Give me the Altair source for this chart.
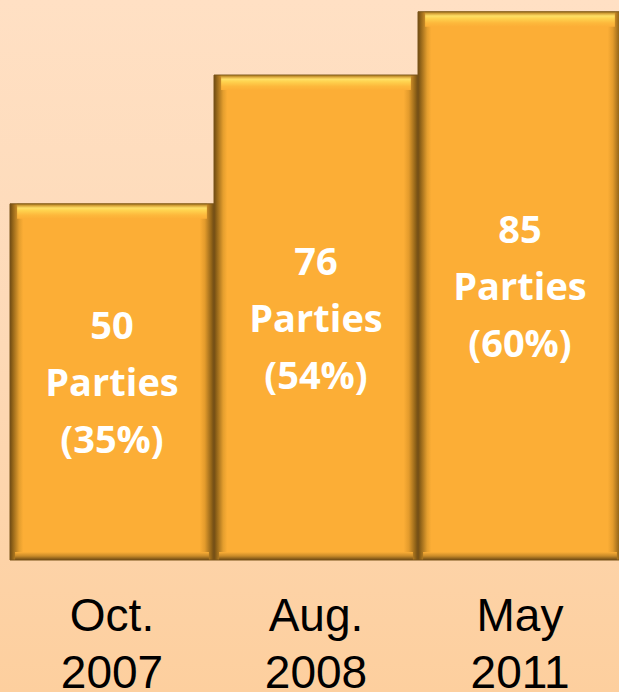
import altair as alt
import pandas as pd

# Data
periods = ["Oct. 2007", "Aug. 2008", "May 2011"]
party_counts = [50, 76, 85]
party_pcts = [35, 54, 60]
# drawn bar heights (the picture is not to scale), as % of the plot height
bar_heights = [63.6, 86.6, 97.9]

df = pd.DataFrame({
    "period": periods,
    "count": party_counts,
    "pct": party_pcts,
    "h": bar_heights,
})

base = alt.Chart(df).transform_calculate(
    mid="datum.h / 2",
    zero="0",
    label="datum.count + '\\nParties\\n(' + datum.pct + '%)'",
)

xenc = alt.X(
    "period:N",
    sort=periods,
    scale=alt.Scale(paddingInner=0, paddingOuter=0, range=[0, 612]),
    axis=alt.Axis(
        title=None, domain=False, ticks=False, labelAngle=0,
        labelExpr="split(datum.label, ' ')",
        labelFont="Liberation Sans", labelFontSize=46, labelLineHeight=57,
        labelColor="#000000", labelPadding=34, zindex=1,
    ),
)
yscale = alt.Scale(domain=[0, 100], nice=False, zero=True)

bg = base.mark_rect(
    color=alt.LinearGradient(
        gradient="linear", x1=0, x2=0, y1=0, y2=1,
        stops=[alt.GradientStop(color="#FFE0C4", offset=0),
               alt.GradientStop(color="#FDD9B6", offset=0.5),
               alt.GradientStop(color="#FDCF9E", offset=1)],
    )
).encode(x=alt.value(-10), x2=alt.value(619), y=alt.value(0), y2=alt.value(692))

side = alt.LinearGradient(
    gradient="linear", x1=0, x2=1, y1=0, y2=0,
    stops=[alt.GradientStop(color="#6E4A14", offset=0),
           alt.GradientStop(color="#8F6218", offset=0.012),
           alt.GradientStop(color="#E49E2E", offset=0.045),
           alt.GradientStop(color="#FCAE36", offset=0.065),
           alt.GradientStop(color="#FCAE36", offset=0.93),
           alt.GradientStop(color="#E39B2C", offset=0.955),
           alt.GradientStop(color="#8F6218", offset=0.988),
           alt.GradientStop(color="#6E4A14", offset=1)],
)
bars = base.mark_bar(color=side, stroke="#7A5418", strokeWidth=1).encode(
    x=xenc, y=alt.Y("h:Q", scale=yscale, axis=None), y2=alt.Y2("zero:Q")
)

top = base.mark_bar(
    width={"band": 0.93}, y2Offset=15,
    color=alt.LinearGradient(
        gradient="linear", x1=0, x2=0, y1=0, y2=1,
        stops=[alt.GradientStop(color="#8A6418", offset=0),
               alt.GradientStop(color="#D8A43A", offset=0.12),
               alt.GradientStop(color="#FFE066", offset=0.28),
               alt.GradientStop(color="#FFD24E", offset=0.45),
               alt.GradientStop(color="#FDB83C", offset=0.75),
               alt.GradientStop(color="#FCAE36", offset=1)],
    ),
).encode(x=xenc, y=alt.Y("h:Q", scale=yscale), y2=alt.Y2("h:Q"))

bottom = base.mark_bar(
    width={"band": 0.95}, yOffset=-8,
    color=alt.LinearGradient(
        gradient="linear", x1=0, x2=0, y1=0, y2=1,
        stops=[alt.GradientStop(color="#FCAE36", offset=0),
               alt.GradientStop(color="#C88A28", offset=0.5),
               alt.GradientStop(color="#6E4A14", offset=1)],
    ),
).encode(x=xenc, y=alt.Y("zero:Q", scale=yscale), y2=alt.Y2("zero:Q"))

text = base.mark_text(
    font="Open Sans", fontWeight="bold", fontSize=38, lineHeight=57,
    color="white", lineBreak="\n", baseline="middle", align="center", dy=-54,
).encode(x=xenc, y=alt.Y("mid:Q", scale=yscale), text="label:N")

chart = alt.layer(bg, bars, top, bottom, text).properties(
    width=609, height=560,
    autosize=alt.AutoSizeParams(type="none"),
    padding={"left": 10, "top": 0, "right": 0, "bottom": 132},
).configure_view(stroke=None).configure(background="#FDD8B2")

chart.save("out.html", embed_options={"renderer": "svg", "actions": False})
